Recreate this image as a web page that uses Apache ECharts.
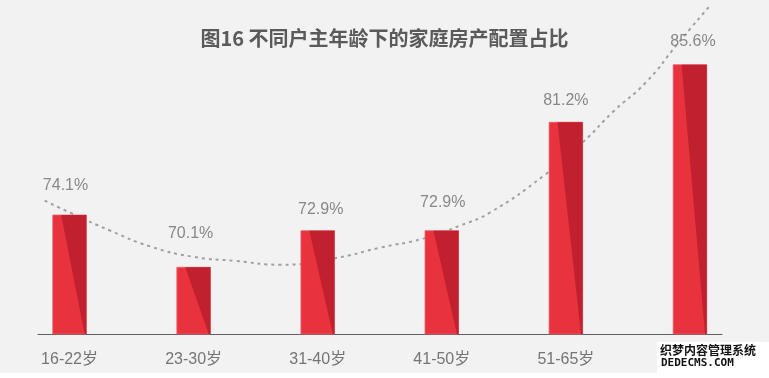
<!DOCTYPE html>
<html>
<head>
<meta charset="utf-8">
<script src="https://cdn.jsdelivr.net/npm/echarts@6/dist/echarts.min.js"></script>
<style>
  html, body { margin: 0; padding: 0; background: #f2f2f2; }
  #chart { width: 769px; height: 378px; }
</style>
</head>
<body>
<div id="chart"></div>
<script>
const categories = ['16-22岁', '23-30岁', '31-40岁', '41-50岁', '51-65岁', '65岁以上']
const shares = [74.1, 70.1, 72.9, 72.9, 81.2, 85.6]
// dotted trend curve: [category position, percent]
const trendX = [-0.2, 0, 0.33, 0.65, 1.0, 1.33, 1.7, 2.14, 2.5, 2.85, 3.15, 3.39, 3.82, 4.14, 4.38, 4.65, 4.9, 5.15]
const trendY = [75.2, 74.3, 72.9, 71.7, 70.9, 70.6, 70.3, 70.8, 71.6, 72.3, 73.3, 74.3, 77.1, 79.7, 82.0, 84.3, 87.2, 90.0]

// label nudges [dx, distance above bar top] (style only)
const labelShift = [[-4, 29], [-3, 34], [3, 21], [1, 28], [0, 22], [3, 23]]

const yMin = 65
const chart = echarts.init(document.getElementById('chart'))

chart.setOption({
    backgroundColor: '#f2f2f2',
    animation: false,
    title: {
        text: '图16 不同户主年龄下的家庭房产配置占比',
        left: 'center',
        top: 23,
        textStyle: {
            fontFamily: 'Noto Sans CJK SC',
            fontSize: 20,
            fontWeight: 'bold',
            color: '#5a5a5a'
        }
    },
    grid: [
        { left: 7.5, right: 17, top: 7.25, bottom: 44 },
        { left: 38, right: 47, top: 7.25, bottom: 44 }
    ],
    xAxis: [
        {
            type: 'category',
            gridIndex: 0,
            data: categories,
            axisLine: { show: false },
            axisTick: { show: false },
            axisLabel: {
                margin: 18,
                fontSize: 16,
                color: '#757575',
                fontFamily: 'Liberation Sans, Noto Sans CJK SC'
            }
        },
        {
            type: 'value',
            gridIndex: 1,
            min: 0,
            max: 1,
            splitLine: { show: false },
            axisTick: { show: false },
            axisLabel: { show: false },
            axisLine: { show: true, lineStyle: { color: '#606060', width: 1 } }
        },
        {
            type: 'value',
            gridIndex: 0,
            min: -0.5,
            max: 5.5,
            show: false
        }
    ],
    yAxis: [
        { type: 'value', gridIndex: 0, min: yMin, max: 90, show: false },
        { type: 'value', gridIndex: 1, min: 0, max: 1, show: false }
    ],
    series: [
        {
            type: 'line',
            xAxisIndex: 2,
            yAxisIndex: 0,
            data: trendX.map((x, i) => [x, trendY[i]]),
            smooth: 0.5,
            showSymbol: false,
            clip: false,
            z: 1,
            lineStyle: { color: '#a0a0a0', width: 2, type: [3, 4] }
        },
        {
            type: 'custom',
            xAxisIndex: 0,
            yAxisIndex: 0,
            z: 3,
            data: shares.map((v, i) => [i, v]),
            renderItem: (params, api) => {
                const i = api.value(0)
                const v = api.value(1)
                const top = api.coord([i, v])
                const base = api.coord([i, yMin])
                const w = api.size([1, 0])[0] * 0.27
                const x0 = top[0] - w / 2
                const x1 = top[0] + w / 2
                const h = base[1] - top[1]
                const shift = labelShift[params.dataIndex]
                return {
                    type: 'group',
                    children: [
                        {
                            type: 'rect',
                            shape: { x: x0, y: top[1], width: w, height: h },
                            style: { fill: '#e8333f', stroke: '#ec5a62', lineWidth: 0.8 }
                        },
                        {
                            type: 'polygon',
                            shape: {
                                points: [
                                    [x0 + w * 0.25, top[1]],
                                    [x1, top[1]],
                                    [x1, base[1]],
                                    [x0 + w * 0.95, base[1]]
                                ]
                            },
                            style: { fill: '#c1212e' }
                        },
                        {
                            type: 'text',
                            x: top[0] + shift[0],
                            y: top[1] - shift[1],
                            style: {
                                text: v.toFixed(1) + '%',
                                fill: '#888888',
                                fontSize: 16,
                                fontFamily: 'Liberation Sans',
                                align: 'center',
                                verticalAlign: 'middle'
                            }
                        }
                    ]
                }
            }
        }
    ],
    graphic: [
        {
            type: 'rect',
            left: 0,
            top: 373,
            shape: { width: 769, height: 5 },
            style: { fill: '#ffffff' },
            z: 10
        },
        {
            type: 'rect',
            left: 657,
            top: 342,
            shape: { width: 112, height: 36 },
            style: { fill: '#ffffff' },
            z: 10
        },
        {
            type: 'text',
            left: 660,
            top: 344,
            z: 11,
            style: {
                text: '织梦内容管理系统',
                fill: '#111111',
                fontSize: 12,
                fontWeight: 'bold',
                fontFamily: 'Noto Sans CJK SC'
            }
        },
        {
            type: 'text',
            left: 661,
            top: 358,
            z: 11,
            style: {
                text: 'DEDECMS.COM',
                fill: '#111111',
                fontSize: 11,
                fontWeight: 'bold',
                fontFamily: 'DejaVu Sans Mono'
            }
        }
    ]
})
</script>
</body>
</html>
